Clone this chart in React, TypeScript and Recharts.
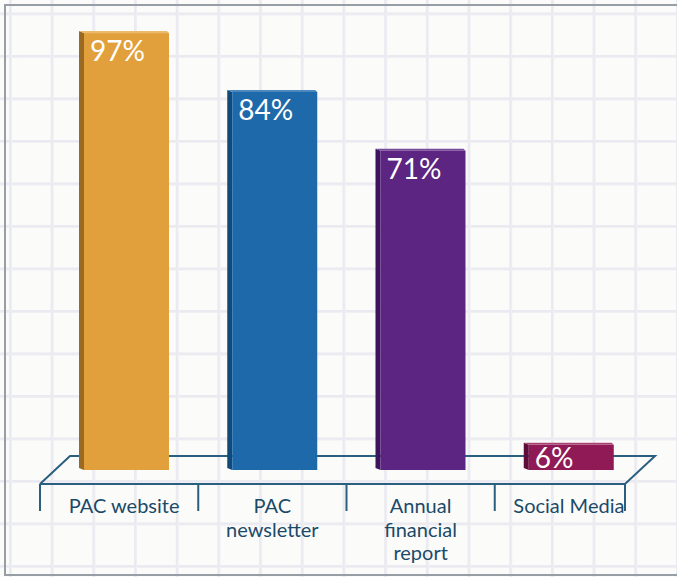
import { BarChart, Bar, XAxis, YAxis, LabelList } from "recharts";

const categories = ["PAC website", "PAC\nnewsletter", "Annual\nfinancial\nreport", "Social Media"];
const values = [97, 84, 71, 6];
const frontColors = ["#E1A03B", "#1E69A9", "#5B2581", "#8F1A56"];
const sideColors = ["#9A6A22", "#0F4A7B", "#3E135E", "#5E0C39"];
const topColors = ["#ECBA68", "#4B89BE", "#7A4A9A", "#A84474"];

const data = categories.map((name, i) => ({ name, value: values[i] }));

const W = 677;
const H = 577;
const M = { top: 17.5, right: 34, left: 50, bottom: 0 };
const AXIS_H = 107;
const plotLeft = M.left;
const plotRight = W - M.right;
const plotBottom = H - M.bottom - AXIS_H;
const band = (plotRight - plotLeft) / categories.length;

const INK = "#1B4A68";
const FLOOR = "#2B5F80";
const FONT = "Lato, 'Open Sans', sans-serif";
const GRID = "#EAEAF1";

function Bar3D(props: any) {
  const { x, y, width, height, index } = props;
  if (height <= 0) return null;
  const side = 5;
  const depth = 2;
  return (
    <g>
      <polygon
        points={`${x},${y} ${x + side},${y + depth} ${x + side},${y + height} ${x},${y + height - depth}`}
        fill={sideColors[index]}
      />
      <rect x={x + side} y={y + depth} width={width - side} height={height - depth} fill={frontColors[index]} />
      <polygon
        points={`${x},${y} ${x + width - 2},${y} ${x + width},${y + depth} ${x + side},${y + depth}`}
        fill={topColors[index]}
      />
    </g>
  );
}

function ValueLabel(props: any) {
  const { x, y, height, value } = props;
  const base = Math.min(y + 30, y + height - 2);
  return (
    <text x={x + 11} y={base} fill="#fff" fontSize={28} fontFamily={FONT}>
      {value}%
    </text>
  );
}

function CatTick(props: any) {
  const { x, y, payload } = props;
  const lines = String(payload.value).split("\n");
  return (
    <text x={x} y={y} textAnchor="middle" fill={INK} fontSize={20} fontFamily={FONT}>
      {lines.map((l, i) => (
        <tspan key={i} x={x} dy={i === 0 ? 35 : 23.5}>
          {l}
        </tspan>
      ))}
    </text>
  );
}

function Floor() {
  const frontY = plotBottom + 14;
  const backY = plotBottom - 14;
  const fl = 40;
  const fr = 625;
  const seps = [fl, ...categories.slice(1).map((_, i) => plotLeft + band * (i + 1)), fr];
  return (
    <svg width={W} height={H} style={{ position: "absolute", left: 0, top: 0 }}>
      <polyline
        points={`${fl},${frontY} ${fl + 30},${backY} ${fr + 30},${backY} ${fr},${frontY} ${fl},${frontY}`}
        fill="none"
        stroke={FLOOR}
        strokeWidth={2}
      />
      {seps.map((sx, i) => (
        <line key={i} x1={sx} x2={sx} y1={frontY} y2={frontY + 27} stroke={FLOOR} strokeWidth={2} />
      ))}
    </svg>
  );
}

export default function App() {
  return (
    <div
      style={{
        position: "absolute",
        left: 0,
        top: 0,
        width: W,
        height: H,
        overflow: "hidden",
        backgroundColor: "#FBFBFA",
        backgroundImage: `linear-gradient(to right, ${GRID} 0, ${GRID} 2px, #F3F3F7 3px, transparent 3px), linear-gradient(to bottom, ${GRID} 0, ${GRID} 2px, #F3F3F7 3px, transparent 3px)`,
        backgroundSize: "41.7px 42.5px",
        backgroundPosition: "9px 12.5px",
      }}
    >
      <div
        style={{
          position: "absolute",
          left: 4,
          top: 4,
          width: W,
          height: 568,
          borderLeft: "2px solid #979EA5",
          borderTop: "2px solid #979EA5",
          borderBottom: "2px solid #979EA5",
        }}
      />
      <Floor />
      <div style={{ position: "absolute", left: 0, top: 0 }}>
        <BarChart width={W} height={H} data={data} margin={M}>
          <XAxis
            dataKey="name"
            height={AXIS_H}
            axisLine={false}
            tickLine={false}
            interval={0}
            tick={<CatTick />}
          />
          <YAxis hide domain={[0, 100]} />
          <Bar dataKey="value" barSize={90} shape={<Bar3D />} isAnimationActive={false}>
            <LabelList dataKey="value" content={<ValueLabel />} />
          </Bar>
        </BarChart>
      </div>
    </div>
  );
}
